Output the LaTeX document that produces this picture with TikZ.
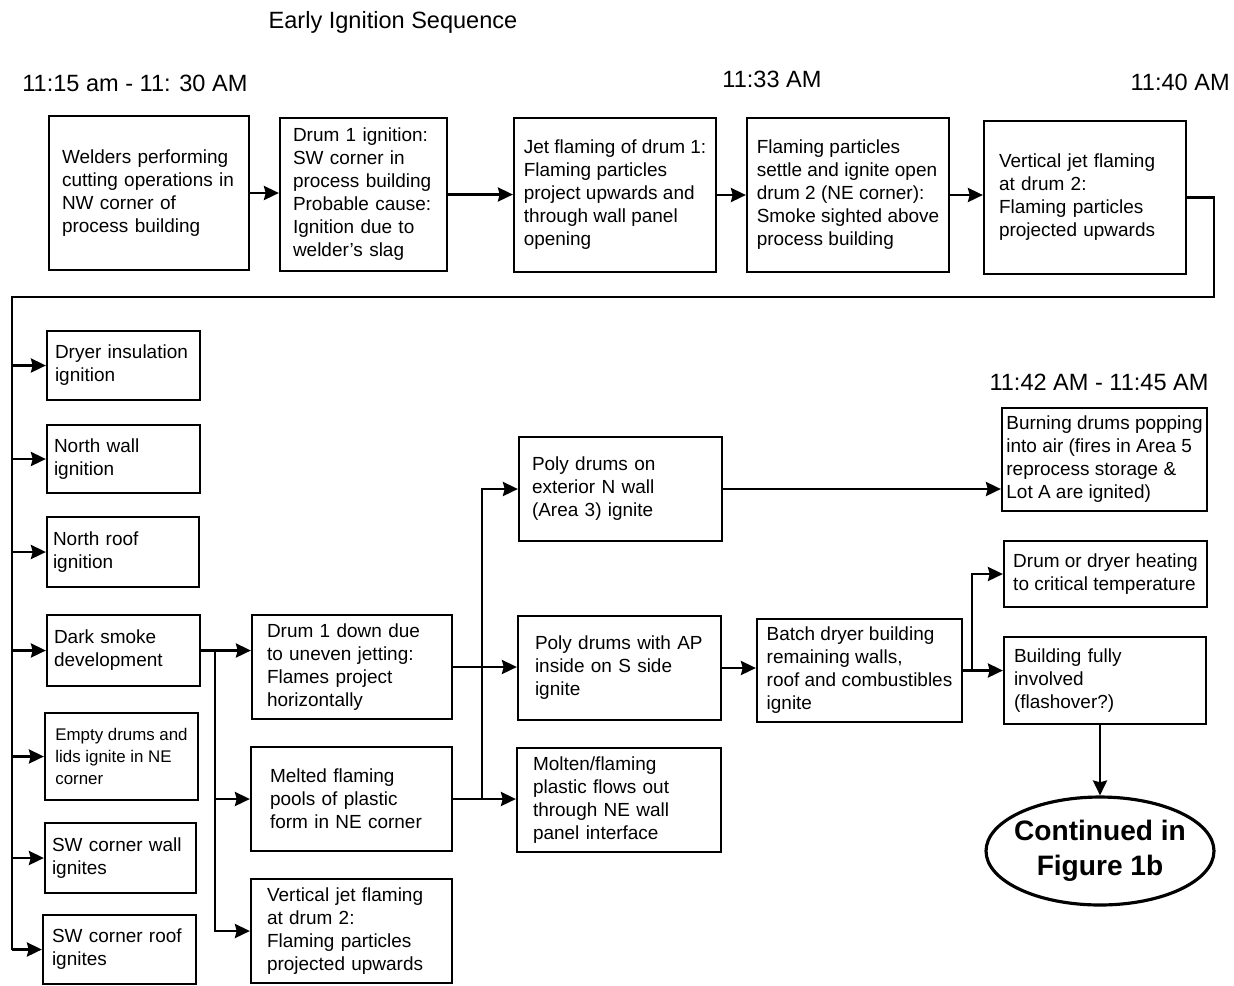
\documentclass[tikz,border=0pt]{standalone}
\usepackage{fontspec}
\setmainfont{Liberation Sans}
\usetikzlibrary{arrows.meta,shapes.geometric}
\tikzset{
  evt/.style={draw, line width=1.3pt, align=left, inner sep=0pt, font=\fontsize{10.8}{13.1}\selectfont},
  arr/.style={line width=1.5pt, -{Stealth[length=8.5pt,width=8pt,inset=1pt]}},
  wire/.style={line width=1.5pt},
  stamp/.style={font=\fontsize{13.4}{16}\selectfont, inner sep=0pt},
}
\begin{document}
\begin{tikzpicture}[x=0.02cm,y=-0.02cm]
\useasboundingbox (0,0) rectangle (1234,985);
\node[stamp] (title) at (393,22) {Early Ignition Sequence};
\node[stamp, anchor=west] (t1) at (22,83) {11:15 am - 11: 30 AM};
\node[stamp] (t2) at (772,79) {11:33 AM};
\node[stamp, anchor=east] (t3) at (1230,82) {11:40 AM};
\node[stamp] (t4) at (1099,382) {11:42 AM - 11:45 AM};

\node[evt, minimum width=4cm, minimum height=3.08cm, text width=3.48cm] (weld) at (149,193) {Welders performing\\cutting operations in\\NW corner of\\process building};
\node[evt, minimum width=3.34cm, minimum height=3.06cm, text width=2.82cm] (ign) at (363.5,194.5) {Drum 1 ignition:\\SW corner in\\process building\\Probable cause:\\Ignition due to\\welder's slag};
\node[evt, minimum width=4.04cm, minimum height=3.08cm] (jet) at (615,195) {Jet flaming of drum 1:\\Flaming particles\\project upwards and\\through wall panel\\opening};
\node[evt, minimum width=4.04cm, minimum height=3.08cm] (settle) at (848,195) {Flaming particles\\settle and ignite open\\drum 2 (NE corner):\\Smoke sighted above\\process building};
\node[evt, minimum width=4.04cm, minimum height=3.06cm, text width=3.44cm] (vjet) at (1085,197.5) {Vertical jet flaming\\at drum 2:\\Flaming particles\\projected upwards};

\node[evt, minimum width=3.06cm, minimum height=1.38cm, text width=2.74cm] (dryer) at (123.5,365.5) {Dryer insulation\\ignition};
\node[evt, minimum width=3.06cm, minimum height=1.36cm, text width=2.78cm] (nwall) at (123.5,459) {North wall\\ignition};
\node[evt, minimum width=3.04cm, minimum height=1.4cm, text width=2.8cm] (nroof) at (123,552) {North roof\\ignition};
\node[evt, minimum width=3.06cm, minimum height=1.42cm, text width=2.78cm] (smoke) at (123.5,650.5) {Dark smoke\\development};
\node[evt, minimum width=3.06cm, minimum height=1.74cm, font=\fontsize{9.6}{12.6}\selectfont] (empty) at (121.5,756.5) {Empty drums and\\lids ignite in NE\\corner};
\node[evt, minimum width=3.02cm, minimum height=1.4cm, text width=2.74cm] (swwall) at (120.5,858) {SW corner wall\\ignites};
\node[evt, minimum width=3.06cm, minimum height=1.38cm, text width=2.7cm] (swroof) at (119.5,949.5) {SW corner roof\\ignites};

\node[evt, minimum width=4cm, minimum height=2.08cm, text width=3.4cm] (down) at (352,667) {Drum 1 down due\\to uneven jetting:\\Flames project\\horizontally};
\node[evt, minimum width=4.02cm, minimum height=2.08cm, text width=3.26cm] (pools) at (351.5,799) {Melted flaming\\pools of plastic\\form in NE corner};
\node[evt, minimum width=4.02cm, minimum height=2.08cm, text width=3.38cm] (vjet2) at (351.5,931) {Vertical jet flaming\\at drum 2:\\Flaming particles\\projected upwards};

\node[evt, minimum width=4.06cm, minimum height=2.08cm, text width=3.54cm] (polyN) at (620.5,489) {Poly drums on\\exterior N wall\\(Area 3) ignite};
\node[evt, minimum width=4.06cm, minimum height=2.08cm, text width=3.38cm] (polyAP) at (619.5,668) {Poly drums with AP\\inside on S side\\ignite};
\node[evt, minimum width=4.08cm, minimum height=2.08cm, text width=3.44cm] (molten) at (619,800) {Molten/flaming\\plastic flows out\\through NE wall\\panel interface};
\node[evt, minimum width=4.1cm, minimum height=2.06cm] (batch) at (859.5,670.5) {Batch dryer building\\remaining walls,\\roof and combustibles\\ignite};

\node[evt, minimum width=4.1cm, minimum height=2.06cm] (burn) at (1104.5,459.5) {Burning drums popping\\into air (fires in Area 5\\reprocess storage \&\\Lot A are ignited)};
\node[evt, minimum width=4.06cm, minimum height=1.32cm] (heat) at (1105.5,574) {Drum or dryer heating\\to critical temperature};
\node[evt, minimum width=4.04cm, minimum height=1.74cm, text width=3.64cm] (full) at (1105,680.5) {Building fully\\involved\\(flashover?)};
\node[draw, ellipse, line width=1.8pt, inner xsep=-5pt, inner ysep=0pt, minimum width=4.56cm, minimum height=2.16cm, align=center, font=\bfseries\fontsize{16}{20}\selectfont] (cont) at (1100,851) {Continued in\\Figure 1b};

\draw[arr] (weld.east) -- (weld.east -| ign.west);
\draw[arr] (ign.east) -- (ign.east -| jet.west);
\draw[arr] (jet.east) -- (jet.east -| settle.west);
\draw[arr] (settle.east) -- (settle.east -| vjet.west);

\coordinate (busR) at (1214,297);
\coordinate (busL) at (12,297);
\draw[wire] (vjet.east) -| (busR) -- (busL) -- (busL |- swroof.west);
\foreach \n in {dryer,nwall,nroof,smoke,empty,swwall,swroof}
  \draw[arr] (busL |- \n.west) -- (\n.west);

\coordinate (jA) at (215,0);
\draw[arr] (smoke.east) -- (smoke.east -| down.west);
\draw[arr] (jA |- smoke.east) |- (pools.west);
\draw[arr] (jA |- smoke.east) |- (vjet2.west);

\coordinate (jB) at (482,0);
\draw[arr] (down.east) -- (down.east -| polyAP.west);
\draw[arr] (pools.east) -- (pools.east -| molten.west);
\draw[arr] (jB |- pools.east) |- (polyN.west);

\draw[arr] (polyN.east) -- (polyN.east -| burn.west);
\draw[arr] (polyAP.east) -- (polyAP.east -| batch.west);
\coordinate (jC) at (972,0);
\draw[arr] (batch.east) -- (batch.east -| full.west);
\draw[arr] (jC |- batch.east) |- (heat.west);
\draw[arr] (cont.north |- full.south) -- (cont.north);
\end{tikzpicture}
\end{document}
